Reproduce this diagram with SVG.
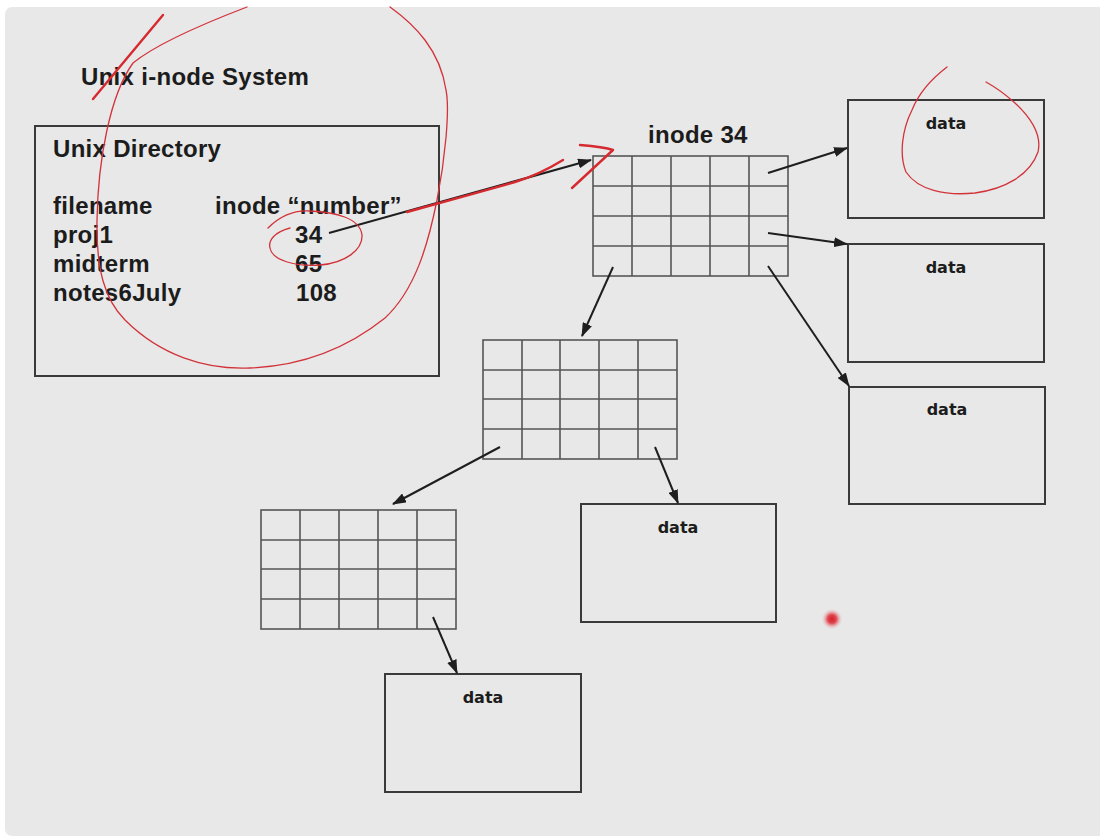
<svg xmlns="http://www.w3.org/2000/svg" width="1100" height="838" viewBox="0 0 1100 838">
<defs>
<marker id="ah" viewBox="0 0 14 10" refX="13" refY="5" markerWidth="14" markerHeight="10" markerUnits="userSpaceOnUse" orient="auto">
<path d="M0,0 L14,5 L0,10 Z" fill="#1e1e1e"/>
</marker>
<radialGradient id="dot">
<stop offset="0" stop-color="#d81e2a"/>
<stop offset="0.4" stop-color="#e04a52"/>
<stop offset="1" stop-color="#e8e8e8" stop-opacity="0"/>
</radialGradient>
</defs>
<style>
.t{font-family:"Liberation Sans",Arial,sans-serif;font-weight:bold;font-size:24px;letter-spacing:0.3px;fill:#1c1c1c}
.d{font-family:"DejaVu Sans",sans-serif;font-weight:bold;font-size:16px;fill:#1c1c1c;text-anchor:middle}
.box{fill:none;stroke:#3a3a3a;stroke-width:2}
.grid{fill:none;stroke:#555;stroke-width:1.6}
.conn{stroke:#1e1e1e;stroke-width:2;fill:none}
.red{fill:none;stroke:#d2333a;stroke-width:1.3;stroke-linecap:round;stroke-linejoin:round}
.redb{fill:none;stroke:#d62a30;stroke-width:2.4;stroke-linecap:round;stroke-linejoin:round}
</style>
<rect x="0" y="0" width="1100" height="838" fill="#ffffff"/>
<rect x="5" y="7" width="1102" height="829" rx="7" fill="#e8e8e8"/>

<text class="t" x="81" y="85">Unix i-node System</text>

<g id="directory">
<rect class="box" x="35" y="126" width="404" height="250"/>
<text class="t" x="53" y="157">Unix Directory</text>
<text class="t" x="53" y="214">filename</text>
<text class="t" x="215" y="214">inode “number”</text>
<text class="t" x="53" y="243">proj1</text>
<text class="t" x="295" y="243">34</text>
<text class="t" x="53" y="272">midterm</text>
<text class="t" x="295" y="272">65</text>
<text class="t" x="53" y="301">notes6July</text>
<text class="t" x="296" y="301">108</text>
</g>

<g id="inode34">
<text class="t" x="648" y="143">inode 34</text>
<rect class="grid" x="593" y="156" width="195" height="120"/>
<path class="grid" d="M632,156V276M671,156V276M710,156V276M749,156V276M593,186H788M593,216H788M593,246H788"/>
</g>

<g id="indirect1">
<rect class="grid" x="483" y="340" width="194" height="119"/>
<path class="grid" d="M522,340V459M560,340V459M599,340V459M638,340V459M483,370H677M483,399H677M483,429H677"/>
</g>

<g id="indirect2">
<rect class="grid" x="261" y="510" width="195" height="119"/>
<path class="grid" d="M300,510V629M339,510V629M378,510V629M417,510V629M261,540H456M261,569H456M261,599H456"/>
</g>

<g id="data1">
<rect class="box" x="848" y="100" width="196" height="118"/>
<text class="d" x="946" y="129">data</text>
</g>
<g id="data2">
<rect class="box" x="848" y="244" width="196" height="118"/>
<text class="d" x="946" y="273">data</text>
</g>
<g id="data3">
<rect class="box" x="849" y="387" width="196" height="117"/>
<text class="d" x="947" y="415">data</text>
</g>
<g id="data4">
<rect class="box" x="581" y="504" width="195" height="118"/>
<text class="d" x="678" y="533">data</text>
</g>
<g id="data5">
<rect class="box" x="385" y="674" width="196" height="118"/>
<text class="d" x="483" y="703">data</text>
</g>

<g id="connectors">
<line class="conn" x1="329" y1="233" x2="591" y2="160" marker-end="url(#ah)"/>
<line class="conn" x1="768" y1="173" x2="847" y2="148" marker-end="url(#ah)"/>
<line class="conn" x1="768" y1="233" x2="847" y2="244" marker-end="url(#ah)"/>
<line class="conn" x1="768" y1="266" x2="849" y2="386" marker-end="url(#ah)"/>
<line class="conn" x1="613" y1="267" x2="582" y2="336" marker-end="url(#ah)"/>
<line class="conn" x1="500" y1="447" x2="393" y2="504" marker-end="url(#ah)"/>
<line class="conn" x1="655" y1="447" x2="678" y2="503" marker-end="url(#ah)"/>
<line class="conn" x1="433" y1="617" x2="457" y2="673" marker-end="url(#ah)"/>
</g>

<g id="annotations">
<path class="redb" d="M93,99 L163,15"/>
<path class="red" d="M247,7 C200,25 155,45 133,63 C110,95 98,160 97,220 C96,270 105,300 125,320 C160,355 205,370 250,368 C300,366 345,350 385,318 C415,290 428,245 437,200 C445,160 450,110 446,90 C440,50 415,25 390,7"/>
<path class="red" d="M268,228 C280,216 295,210 310,211 C335,212 360,218 362,235 C363,250 345,263 320,265 C295,267 272,260 270,248 C268,240 275,232 290,228"/>
<path class="redb" d="M407,212 C440,203 480,192 515,182 C535,176 550,168 563,160"/>
<path class="redb" d="M580,145 C592,146 604,147 613,150 C600,162 585,176 572,188"/>
<path class="red" d="M947,67 C930,80 918,95 912,110 C902,130 899,155 906,172 C918,190 945,196 975,193 C1005,189 1030,175 1038,152 C1042,135 1030,117 1015,103 C1005,94 995,87 986,82" stroke-width="1.6"/>
<circle cx="832" cy="619" r="11" fill="url(#dot)"/>
</g>
</svg>
